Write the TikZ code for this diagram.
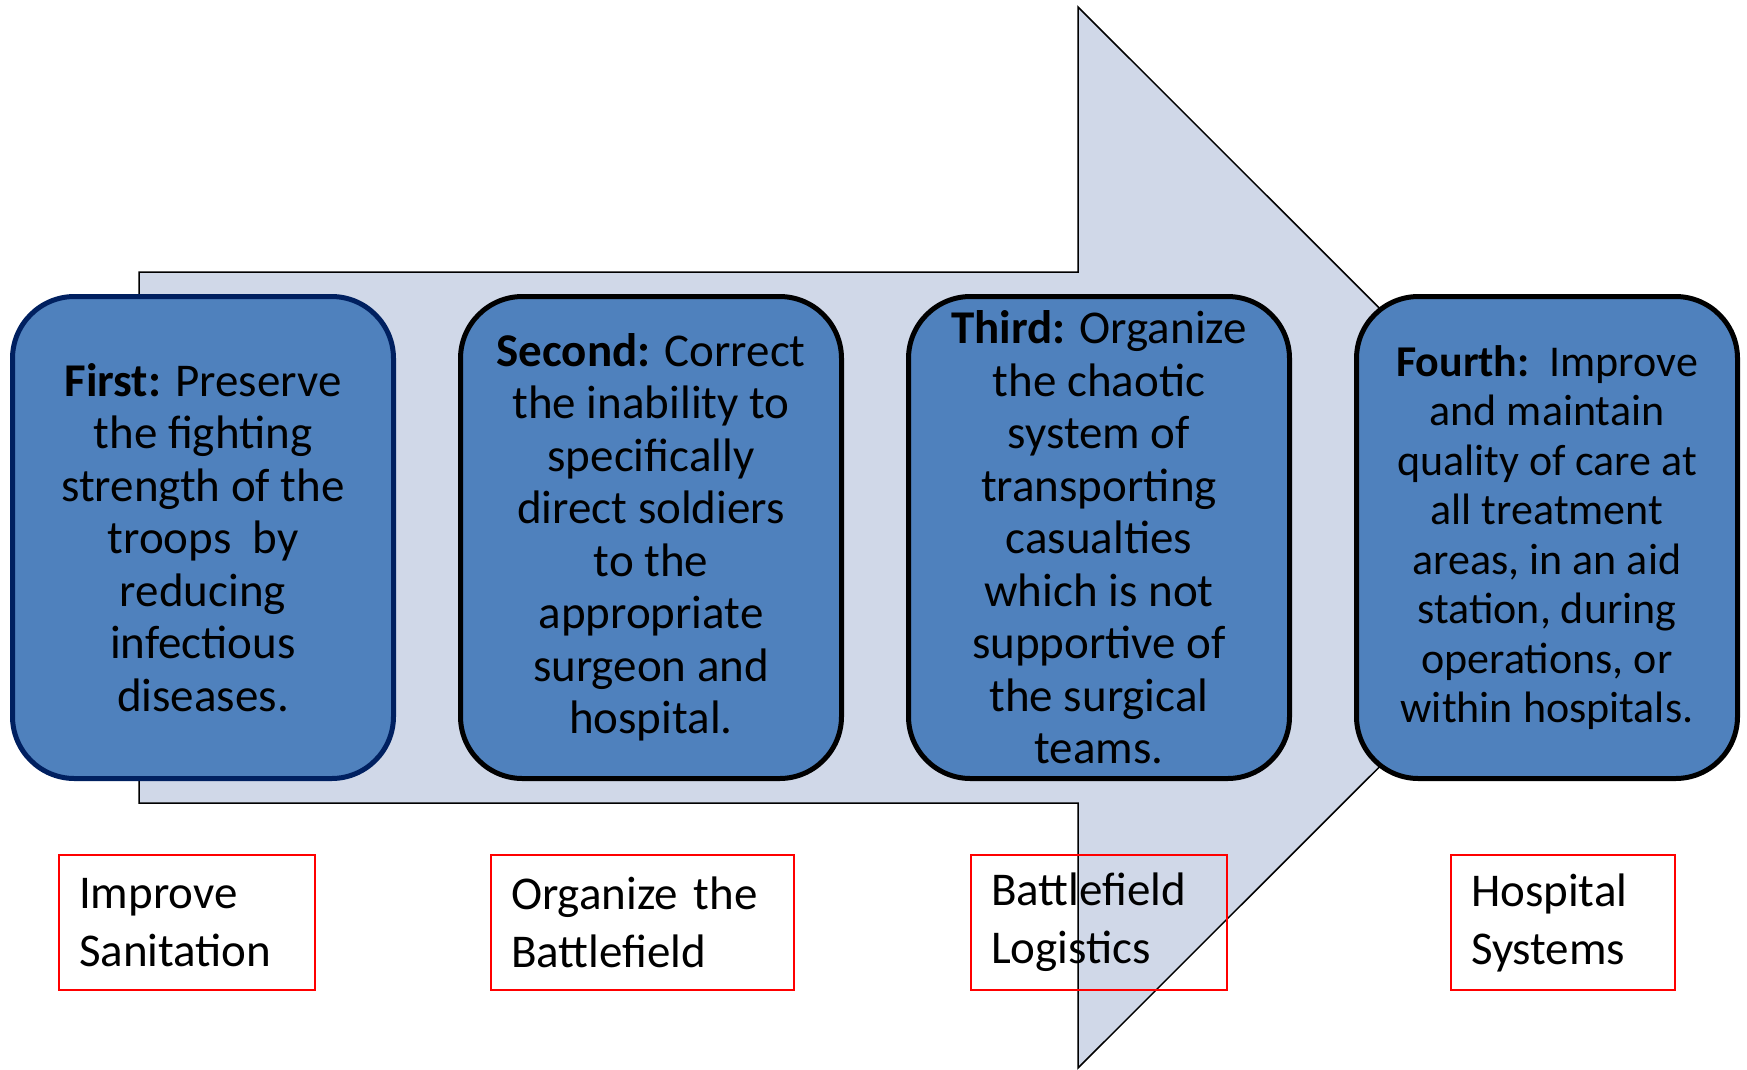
\documentclass[tikz,border=0pt]{standalone}
\usepackage{fontspec}
\setmainfont{Carlito}
\definecolor{boxblue}{RGB}{79,129,189}
\definecolor{arrowfill}{RGB}{208,216,232}
\definecolor{navy}{RGB}{0,32,96}
\definecolor{tagred}{RGB}{255,0,0}
\begin{document}
\begin{tikzpicture}[x=1pt,y=-1pt,
  stagebox/.style={rectangle, rounded corners=62pt, draw=black, line width=5pt,
    fill=boxblue, minimum width=381pt, minimum height=482pt, align=center,
    inner sep=0pt, font=\fontsize{47}{52.5}\selectfont},
  tagbox/.style={rectangle, draw=tagred, line width=2pt, inner xsep=20pt,
    inner ysep=0pt, align=left, font=\fontsize{47}{58}\selectfont},
  bigarrow/.style={draw=black, line width=1.5pt, fill=arrowfill, line join=miter}]
\useasboundingbox (0,0) rectangle (1747,1069);
% big background arrow
\draw[bigarrow] (139,272) -- (1078,272) -- (1078,7) -- (1609,537.5)
  -- (1078,1068) -- (1078,803) -- (139,803) -- cycle;
% stage boxes
\node[stagebox, draw=navy] (first) at (203,537.5)
  {\textbf{First:} Preserve\\the fighting\\strength of the\\troops\ \ by\\reducing\\infectious\\diseases.};
\node[stagebox] (second) at (651,537.5)
  {\textbf{Second:} Correct\\the inability to\\specifically\\direct soldiers\\to the\\appropriate\\surgeon and\\hospital.};
\node[stagebox] (third) at (1099,537.5)
  {\textbf{Third:} Organize\\the chaotic\\system of\\transporting\\casualties\\which is not\\supportive of\\the surgical\\teams.};
\node[stagebox, font=\fontsize{44}{49.5}\selectfont] (fourth) at (1547,537.5)
  {\textbf{Fourth:}\ \ Improve\\and maintain\\quality of care at\\all treatment\\areas, in an aid\\station, during\\operations, or\\within hospitals.};
% red tag boxes
\node[tagbox, text width=216pt, minimum height=135pt] (sanit) at (187,922.5)
  {Improve\\Sanitation};
\node[tagbox, text width=263pt, minimum height=135pt] (organ) at (642.5,922.5)
  {Organize the\\Battlefield};
\node[tagbox, text width=216pt, minimum height=135pt] (logist) at (1099,922.5)
  {Battlefield\\Logistics};
\node[tagbox, text width=184pt, minimum height=135pt] (hosp) at (1563,922.5)
  {Hospital\\Systems};
\end{tikzpicture}
\end{document}
